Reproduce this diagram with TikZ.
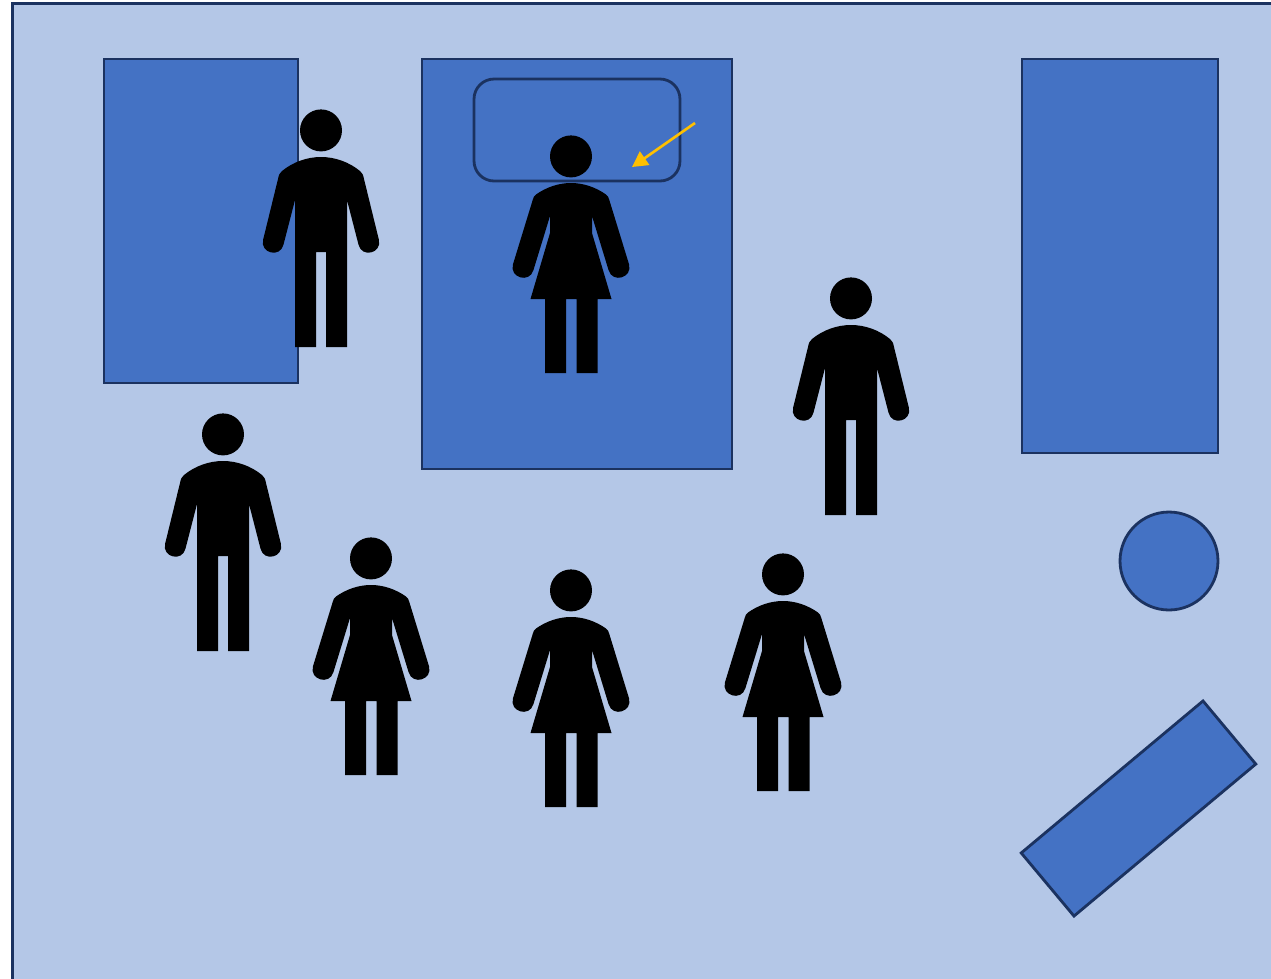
\documentclass[tikz,border=0pt]{standalone}
\usetikzlibrary{arrows.meta}
\definecolor{roomblue}{HTML}{B4C7E7}
\definecolor{itemblue}{HTML}{4472C4}
\definecolor{edgeblue}{HTML}{1B3260}
\definecolor{pointer}{HTML}{FFC000}
\begin{document}
\begin{tikzpicture}[
    x=0.02cm, y=-0.02cm,
    item/.style={draw=edgeblue, line width=1.6pt, fill=itemblue, inner sep=0pt, outer sep=0pt},
    room/.style={item, fill=roomblue, minimum width=25.56cm, minimum height=19.94cm},
    bed/.style={item, minimum width=6.2cm, minimum height=8.2cm},
    pillow/.style={item, fill=none, rounded corners=0.4cm, minimum width=4.12cm, minimum height=2.04cm},
    man/.pic={
        \fill (0,0.4) circle[radius=21];
        \fill (-26,70) -- (-26,217) -- (-5,217) -- (-5,122) -- (5,122) -- (5,217) -- (26,217) -- (26,70)
            -- (37.5,114.6) .. controls (40.7,128.2) and (61.1,123.4) .. (57.9,109.8)
            -- (43,49) .. controls (42.2,45) and (41.5,43) .. (39,41)
            .. controls (28,32) and (14,27) .. (0,27)
            .. controls (-14,27) and (-28,32) .. (-39,41)
            .. controls (-41.5,43) and (-42.2,45) .. (-43,49)
            -- (-57.9,109.8) .. controls (-61.1,123.4) and (-40.7,128.2) .. (-37.5,114.6)
            -- cycle;
    },
    woman/.pic={
        \fill (0,0.4) circle[radius=21];
        \fill (-21,60) -- (-21,77) -- (-40.5,143) -- (-26,143) -- (-26,217) -- (-5,217) -- (-5,143)
            -- (5.5,143) -- (5.5,217) -- (26.5,217) -- (26.5,143) -- (40.5,143) -- (21,77) -- (21,60)
            -- (37.6,114.2) .. controls (41.5,127.7) and (61.9,121.7) .. (58,108.2)
            -- (38.3,44) .. controls (37.4,41) and (37,40) .. (35,38.5)
            .. controls (25,31.5) and (13,27) .. (0,27)
            .. controls (-13,27) and (-25,31.5) .. (-35,38.5)
            .. controls (-37,40) and (-37.4,41) .. (-38.3,44)
            -- (-58,108.2) .. controls (-61.9,121.7) and (-41.5,127.7) .. (-37.6,114.2)
            -- cycle;
    }
]
\useasboundingbox (0,0) rectangle (1271,978);

% Room and furniture
\node[room] (floor) at (651,501.5) {};
\node[item, minimum width=3.88cm, minimum height=6.48cm] (leftbed) at (201,221) {};
\node[bed] (midbed) at (577,264) {};
\node[pillow] (midpillow) at (577,130) {};
\node[item, minimum width=3.92cm, minimum height=7.88cm] (rightbed) at (1120,256) {};
\node[item, circle, minimum size=1.96cm] (stool) at (1169,561) {};
\node[item, rotate=39.9, minimum width=4.74cm, minimum height=1.646cm] (bench) at (1138.5,808.5) {};

% Men
\pic (manA) at (321,130) {man};
\pic (manB) at (851,298) {man};
\pic (manC) at (223,434) {man};

% Women
\pic (womanA) at (571,156) {woman};
\pic (womanB) at (371,558) {woman};
\pic (womanC) at (571,590) {woman};
\pic (womanD) at (783,574) {woman};

% Pointer
\coordinate (pointerstart) at (695,123);
\coordinate (pointertip) at (632,167);
\draw[-{Triangle[length=8.8pt, width=9.2pt]}, pointer, line width=1.5pt] (pointerstart) -- (pointertip);

\end{tikzpicture}
\end{document}
